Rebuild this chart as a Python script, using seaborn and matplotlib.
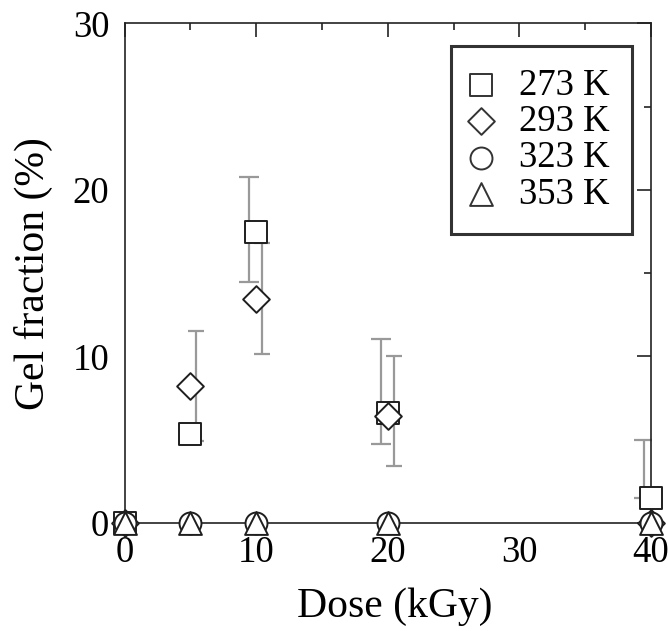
import matplotlib
matplotlib.use("Agg")
import matplotlib.pyplot as plt
from matplotlib.ticker import MultipleLocator
import seaborn as sns
import pandas as pd

# ---- data ----
dose = [0, 5, 10, 20, 40]
temps = ["273 K", "293 K", "323 K", "353 K"]
gel_273 = [0.0, 5.35, 17.5, 6.6, 1.5]
gel_293 = [0.0, 8.2, 13.45, 6.4, 0.0]
gel_323 = [0.0, 0.0, 0.0, 0.0, 0.0]
gel_353 = [0.0, 0.0, 0.0, 0.0, 0.0]
# error bars (lower, upper extents)
err_lo_273 = [0.0, 0.0, 3.0, 1.85, 0.0]
err_hi_273 = [0.0, 0.0, 3.3, 4.45, 3.5]
err_lo_293 = [0.0, 3.3, 3.3, 3.0, 0.0]
err_hi_293 = [0.0, 3.3, 3.35, 3.6, 0.0]
# small horizontal shift of the error bars relative to the symbols (dose units)
err_shift_273 = -0.55
err_shift_293 = 0.45

sns.set_theme(style="white")
plt.rcParams["font.family"] = ["Liberation Serif", "DejaVu Serif"]
plt.rcParams["text.color"] = "black"
plt.rcParams["axes.labelcolor"] = "black"

fig = plt.figure(figsize=(6.68, 6.31), dpi=100)
ax = fig.add_axes([0.1864, 0.1712, 0.7882, 0.7916])

err_color = "#999999"
edge = "#1e1e1e"


def draw_err(x, y, lo, hi, shift, cap):
    idx = [i for i in range(len(x)) if lo[i] > 0 or hi[i] > 0]
    ax.errorbar([x[i] + shift for i in idx], [y[i] for i in idx],
                yerr=[[lo[i] for i in idx], [hi[i] for i in idx]],
                fmt="none", ecolor=err_color, elinewidth=1.6, capsize=cap,
                capthick=1.6, zorder=1)


# error bars (behind symbols)
draw_err(dose, gel_273, err_lo_273, err_hi_273, err_shift_273, 7)
draw_err(dose, gel_293, err_lo_293, err_hi_293, err_shift_293, 6)

series = [
    (temps[0], gel_273, "s", 250),
    (temps[1], gel_293, "D", 185),
    (temps[2], gel_323, "o", 250),
    (temps[3], gel_353, "^", 270),
]
for i, (lab, vals, mk, sz) in enumerate(series):
    df = pd.DataFrame({"dose": dose, "gel": vals})
    sns.scatterplot(data=df, x="dose", y="gel", marker=mk, s=sz, facecolor="white",
                    edgecolor=edge, linewidth=1.4, ax=ax, label=lab, zorder=3 + i,
                    clip_on=False)

ax.set_xlim(0, 40)
ax.set_ylim(0, 30)
ax.xaxis.set_major_locator(MultipleLocator(10))
ax.xaxis.set_minor_locator(MultipleLocator(5))
ax.yaxis.set_major_locator(MultipleLocator(10))
ax.yaxis.set_minor_locator(MultipleLocator(5))
ax.tick_params(which="both", direction="in", top=True, right=True, colors="#222222",
               width=1.2, labelsize=26.5, labelcolor="black")
ax.tick_params(which="major", length=10)
ax.tick_params(which="minor", length=5)
ax.tick_params(axis="x", which="major", pad=9)
ax.tick_params(axis="y", which="major", pad=11)
for sp in ax.spines.values():
    sp.set_color("#222222")
    sp.set_linewidth(1.2)
    sp.set_zorder(2)

ax.set_xlabel("Dose (kGy)", fontsize=30, labelpad=14)
ax.xaxis.set_label_coords(0.514, -0.13)
ax.set_ylabel("Gel fraction (%)", fontsize=30, labelpad=14)

leg = ax.legend(loc="upper right", bbox_to_anchor=(0.964, 0.955), borderaxespad=0,
                fontsize=26.5, frameon=True, fancybox=False, labelspacing=0.05,
                handletextpad=0.85, borderpad=0.6, handlelength=0.4)
leg.get_frame().set_edgecolor("black")
leg.get_frame().set_linewidth(2.2)
for h in leg.legend_handles:
    h.set_edgecolor("#333333")
    h.set_facecolor("white")

fig.savefig("out.png", dpi=100)
